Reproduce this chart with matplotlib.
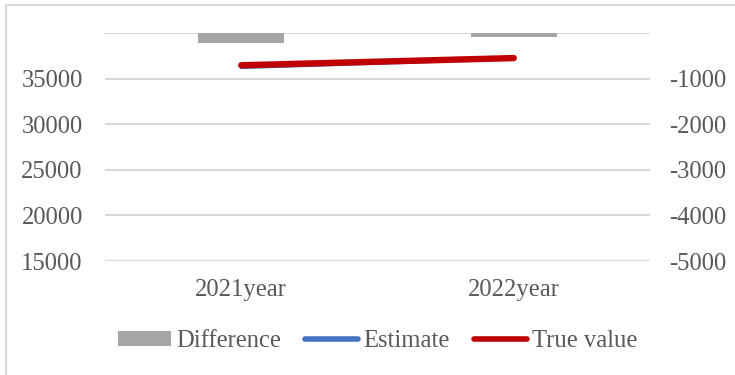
import matplotlib
matplotlib.use("Agg")
import matplotlib.pyplot as plt
from matplotlib.patches import Patch
from matplotlib.lines import Line2D
import numpy as np

# series values
years = ["2021year", "2022year"]
estimate = [36230, 37170]
true_value = [36460, 37250]
difference = [-230, -80]

left_ticks = [15000, 20000, 25000, 30000, 35000]
right_ticks = [-5000, -4000, -3000, -2000, -1000]

TXT = "#595959"
GRID = "#d9d9d9"
plt.rcParams["font.family"] = ["Liberation Serif", "DejaVu Serif"]
FS = 17.7

fig = plt.figure(figsize=(7.35, 3.75), dpi=100)
ax = fig.add_axes([105 / 735, 1 - 261 / 375, 545 / 735, 228 / 375])
ax2 = ax.twinx()

# chart-area frame (left and top edges fall inside the image)
fig.add_artist(plt.Rectangle((6 / 735, -0.1), 1.2, 1 - 5 / 375 + 0.1,
                             transform=fig.transFigure, fill=False,
                             edgecolor=GRID, lw=1.5))

x = np.arange(len(years))

# bars on the secondary axis
ax2.bar(x, difference, width=0.315, color="#a5a5a5", zorder=2)
ax2.set_ylim(-5000, 0)
ax2.set_yticks(right_ticks)
ax2.set_yticklabels([str(v) for v in right_ticks])

# lines on the primary axis, drawn above the bars
ax.set_zorder(ax2.get_zorder() + 1)
ax.patch.set_visible(False)
ax.plot(x, estimate, color="#4472c4", lw=2.5, solid_capstyle="round", zorder=3)
ax.plot(x, true_value, color="#c00000", lw=4.6, solid_capstyle="round", zorder=4)
ax.set_ylim(15000, 40000)
ax.set_yticks(left_ticks)
ax.set_yticklabels([str(v) for v in left_ticks])
ax.set_xlim(-0.5, 1.5)
ax.set_xticks(x)
ax.set_xticklabels(years)

# horizontal gridlines, including the unlabeled top one
for v in left_ticks + [40000]:
    ax2.axhline(-5000 + (v - 15000) / 5, color=GRID, lw=1.5, zorder=1)

for a in (ax, ax2):
    for s in a.spines.values():
        s.set_visible(False)
    a.tick_params(length=0, labelsize=FS, colors=TXT)
ax.tick_params(axis="y", pad=16)
ax2.tick_params(axis="y", pad=13.5)
ax.tick_params(axis="x", pad=13)

handles = [
    Patch(facecolor="#a5a5a5", label="Difference"),
    Line2D([], [], color="#4472c4", lw=4, solid_capstyle="round", label="Estimate"),
    Line2D([], [], color="#c00000", lw=4, solid_capstyle="round", label="True value"),
]
leg = fig.legend(handles=handles, loc="center", bbox_to_anchor=(0.514, 1 - 341 / 375),
                 ncol=3, frameon=False, fontsize=FS, handlelength=2.15,
                 handleheight=0.6, handletextpad=0.2, columnspacing=1.0)
for t in leg.get_texts():
    t.set_color(TXT)

fig.savefig("out.png", dpi=100)
